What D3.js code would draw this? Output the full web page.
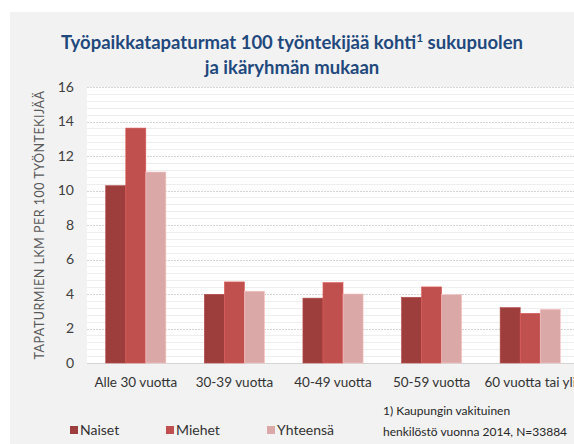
<!DOCTYPE html>
<html>
<head>
<meta charset="utf-8">
<script src="https://cdn.jsdelivr.net/npm/d3@7"></script>
<style>
  body { margin: 0; background: #fff; }
  svg { display: block; font-family: Lato, "Open Sans", sans-serif; }
</style>
</head>
<body>
<svg id="chart" width="574" height="444"></svg>
<script>
// data
var categories = ["Alle 30 vuotta", "30-39 vuotta", "40-49 vuotta", "50-59 vuotta", "60 vuotta tai yli"];
var seriesNames = ["Naiset", "Miehet", "Yhteensä"];
var naiset = [10.28, 3.98, 3.76, 3.81, 3.21];
var miehet = [13.62, 4.70, 4.66, 4.41, 2.88];
var yhteensa = [11.07, 4.16, 4.00, 3.96, 3.11];
var yTicks = [0, 2, 4, 6, 8, 10, 12, 14, 16];
var colors = ["#9d3e3c", "#c0504d", "#d9a8a7"];

var values = [naiset, miehet, yhteensa];
var rows = categories.map(function(c, i) {
    return { cat: c, vals: seriesNames.map(function(s, j) { return { name: s, value: values[j][i], idx: j }; }) };
});

var svg = d3.select("#chart");
var W = 574, H = 444;
var plot = { left: 87, right: 580, top: 87, bottom: 363 };

// outer grey panel
svg.append("rect")
    .attr("x", 10).attr("y", 12)
    .attr("width", W - 10).attr("height", H - 12)
    .attr("fill", "#f2f2f2");

// white plot area
svg.append("rect")
    .attr("x", plot.left).attr("y", plot.top)
    .attr("width", W - plot.left).attr("height", plot.bottom - plot.top)
    .attr("fill", "#ffffff");

var x0 = d3.scaleBand().domain(categories).range([86, 580]).paddingInner(0.39).paddingOuter(0.2);
var x1 = d3.scaleBand().domain(seriesNames).range([0, x0.bandwidth()]);
var y = d3.scaleLinear().domain([0, 16]).range([plot.bottom, plot.top]);

// minor gridlines every 0.4
var minor = d3.range(0, 16.01, 0.4).filter(function(v) { return Math.abs(v / 2 - Math.round(v / 2)) > 0.01; });
svg.append("g").selectAll("line").data(minor).join("line")
    .attr("x1", plot.left).attr("x2", W)
    .attr("y1", function(d) { return Math.round(y(d)) + 0.5; })
    .attr("y2", function(d) { return Math.round(y(d)) + 0.5; })
    .attr("stroke", "#eeeeee").attr("stroke-width", 1);

// major gridlines
svg.append("g").selectAll("line").data(yTicks).join("line")
    .attr("x1", plot.left).attr("x2", W)
    .attr("y1", function(d) { return Math.round(y(d)) + 0.5; })
    .attr("y2", function(d) { return Math.round(y(d)) + 0.5; })
    .attr("stroke", "#d4d4d4").attr("stroke-width", 1)
    .attr("stroke-dasharray", function(d) { return d === 0 ? null : "2,1"; });

// bars
var groups = svg.append("g").selectAll("g").data(rows).join("g")
    .attr("transform", function(d) { return "translate(" + x0(d.cat) + ",0)"; });

groups.selectAll("rect").data(function(d) { return d.vals; }).join("rect")
    .attr("x", function(d) { return x1(d.name); })
    .attr("y", function(d) { return y(d.value); })
    .attr("width", x1.bandwidth())
    .attr("height", function(d) { return y(0) - y(d.value); })
    .attr("fill", function(d) { return colors[d.idx]; })
    .attr("stroke", function(d) { return d3.color(colors[d.idx]).brighter(0.4); })
    .attr("stroke-width", 0.6);

// y axis
var yAxis = d3.axisLeft(y).tickValues(yTicks).tickSize(0).tickPadding(13);
svg.append("g")
    .attr("transform", "translate(" + plot.left + ",0)")
    .call(yAxis)
    .call(function(g) { g.select(".domain").remove(); })
    .selectAll("text")
    .attr("font-size", 14)
    .attr("font-family", "Lato, sans-serif")
    .attr("fill", "#404040");

// x axis labels
var xAxis = d3.axisBottom(x0).tickSize(0).tickPadding(14);
svg.append("g")
    .attr("transform", "translate(0," + plot.bottom + ")")
    .call(xAxis)
    .call(function(g) { g.select(".domain").remove(); })
    .selectAll("text")
    .attr("font-size", 13.5)
    .attr("font-family", "Lato, sans-serif")
    .attr("fill", "#333333");

// y axis title
svg.append("text")
    .attr("transform", "translate(44,225) rotate(-90)")
    .attr("text-anchor", "middle")
    .attr("font-size", 12.5)
    .attr("letter-spacing", 0.5)
    .attr("fill", "#595959")
    .text("TAPATURMIEN LKM PER 100 TYÖNTEKIJÄÄ");

// title
var title = svg.append("text")
    .attr("text-anchor", "middle")
    .attr("font-size", 18.5)
    .attr("font-weight", "bold")
    .attr("fill", "#1f497d");
var t1 = title.append("tspan").attr("x", 292).attr("y", 49);
t1.append("tspan").text("Työpaikkatapaturmat 100 työntekijää kohti");
t1.append("tspan").attr("font-size", 12).attr("dy", -7).text("1");
t1.append("tspan").attr("dy", 7).text(" sukupuolen");
title.append("tspan").attr("x", 292).attr("y", 74).text("ja ikäryhmän mukaan");

// legend
var legendX = [70, 166, 267];
var legend = svg.append("g").selectAll("g").data(seriesNames).join("g")
    .attr("transform", function(d, i) { return "translate(" + legendX[i] + ",426)"; });
legend.append("rect")
    .attr("width", 8).attr("height", 8)
    .attr("fill", function(d, i) { return colors[i]; });
legend.append("text")
    .attr("x", 10).attr("y", 9)
    .attr("font-size", 14)
    .attr("fill", "#333333")
    .text(function(d) { return d; });

// footnote
var note = svg.append("text").attr("font-size", 12).attr("fill", "#262626");
note.append("tspan").attr("x", 383).attr("y", 415).text("1)  Kaupungin vakituinen");
note.append("tspan").attr("x", 383).attr("y", 436).text("henkilöstö vuonna 2014, N=33884");
</script>
</body>
</html>
